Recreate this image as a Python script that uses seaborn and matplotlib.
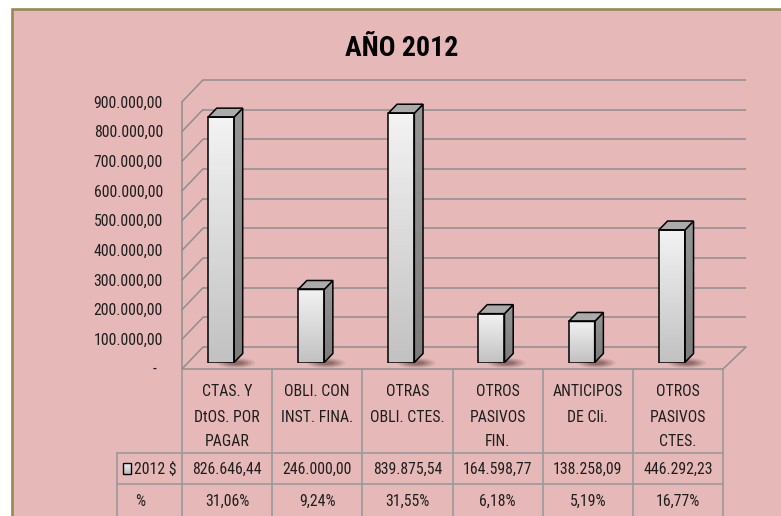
import re
import matplotlib
matplotlib.use("Agg")
import matplotlib.pyplot as plt
from matplotlib.patches import Rectangle, Polygon, Ellipse
from matplotlib.colors import LinearSegmentedColormap
from matplotlib import font_manager
from matplotlib.font_manager import FontProperties
from matplotlib.textpath import TextPath
import numpy as np
import pandas as pd
import seaborn as sns

# ---- data -------------------------------------------------------------
categories = [
    "CTAS. Y\nDtOS. POR\nPAGAR",
    "OBLI. CON\nINST. FINA.",
    "OTRAS\nOBLI. CTES.",
    "OTROS\nPASIVOS\nFIN.",
    "ANTICIPOS\nDE Cli.",
    "OTROS\nPASIVOS\nCTES.",
]
values_2012 = [826646.44, 246000.00, 839875.54, 164598.77, 138258.09, 446292.23]
percentages = [31.06, 9.24, 31.55, 6.18, 5.19, 16.77]
y_ticks = [0, 100000, 200000, 300000, 400000, 500000, 600000, 700000, 800000, 900000]
series_label = "2012 $"
pct_label = "%"
title = "AÑO 2012"

# ---- fonts ------------------------------------------------------------
sns.set_theme(style="white")
plt.rcParams["font.family"] = ["DejaVu Sans"]

files = sorted({f.fname for f in font_manager.fontManager.ttflist})


def pick(patterns):
    for pat in patterns:
        for fn in files:
            if re.search(pat, fn.split("/")[-1], re.I):
                return fn
    return None


reg_file = pick([r"^RobotoCondensed-Regular\.", r"^LiberationSansNarrow-Regular",
                 r"^DejaVuSansCondensed\.ttf"])
bold_file = pick([r"^RobotoCondensed-Bold\.", r"^LiberationSansNarrow-Bold\.",
                  r"^DejaVuSansCondensed-Bold\.ttf"])
FP = FontProperties(fname=reg_file) if reg_file else FontProperties(family="DejaVu Sans")
FPB = FontProperties(fname=bold_file) if bold_file else FontProperties(family="DejaVu Sans", weight="bold")


def fit(prop, sample, target_px):
    w = TextPath((0, 0), sample, size=10, prop=prop).get_extents().width
    return 10 * target_px / (w * 100 / 72)


FS = fit(FP, "826.646,44", 68)
FS_T = fit(FPB, title, 112)

PINK = "#E6B9B8"
OLIVE = "#948A54"
GRID = "#8E8E8E"
TABLE = "#9A9A9A"
TXT = "#1E1E1E"

W, H = 781, 516
fig = plt.figure(figsize=(W / 100, H / 100), dpi=100)
fig.patch.set_facecolor("white")


def es_num(v):
    s = f"{v:,.2f}"
    return s.replace(",", "X").replace(".", ",").replace("X", ".")


def txt(axis, x, y, s, **kw):
    kw.setdefault("fontproperties", FP)
    fp = kw.pop("fontproperties").copy()
    fp.set_size(kw.pop("size", FS))
    axis.text(x, y, s, fontproperties=fp, color=kw.pop("color", TXT),
              va="center", **kw)


# ---- background / walls (pixel coordinates) ---------------------------
bg = fig.add_axes([0, 0, 1, 1], zorder=0)
bg.set_xlim(0, W)
bg.set_ylim(H, 0)
bg.axis("off")
bg.add_patch(Rectangle((11.5, 8.5), W, H, facecolor=PINK, edgecolor=OLIVE,
                       linewidth=1.9))

PX = 29.68e-5          # pixels per unit value
BACK0, FRONT0 = 347.0, 369.0
XL_FRONT, XL_BACK, XR_BACK, XR_FRONT = 182.0, 203.0, 746.0, 723.0


def y_back(v):
    return BACK0 - v * PX


def y_front(v):
    return FRONT0 - v * PX


for v in y_ticks:
    bg.plot([XL_BACK, XR_BACK], [y_back(v), y_back(v)], color=GRID, lw=1.1,
            solid_capstyle="butt")
    bg.plot([XL_FRONT, XL_BACK], [y_front(v), y_back(v)], color=GRID, lw=1.1)
    if v == 0:
        txt(bg, 155, y_front(v), "-", ha="center")
    else:
        txt(bg, 163, y_front(v) + 1, es_num(v), ha="right")

top = y_ticks[-1]
bg.plot([XL_FRONT, XL_FRONT], [y_front(top), y_front(0)], color=GRID, lw=1.1)
# floor
bg.plot([XL_FRONT, XR_FRONT], [FRONT0, FRONT0], color=GRID, lw=1.1)
bg.plot([XR_FRONT, XR_BACK], [FRONT0, BACK0], color=GRID, lw=1.1)

# ---- data table ---------------------------------------------------------
n = len(categories)
col_w = (XR_FRONT - XL_FRONT) / n
row1, row2 = 453.0, 484.0
for i in range(n + 1):
    x = XL_FRONT + i * col_w
    bg.plot([x, x], [FRONT0, H + 2], color=TABLE, lw=1.2)
bg.plot([117, 117], [row1, H + 2], color=TABLE, lw=1.2)
for yy in (row1, row2):
    bg.plot([117, XR_FRONT], [yy, yy], color=TABLE, lw=1.2)

for i, (cat, v, p) in enumerate(zip(categories, values_2012, percentages)):
    cx = XL_FRONT + (i + 0.5) * col_w
    for j, line in enumerate(cat.split("\n")):
        txt(bg, cx, 392 + 25 * j, line, ha="center")
    txt(bg, cx, 469, es_num(v), ha="center")
    txt(bg, cx, 501, f"{p:.2f}%".replace(".", ","), ha="center")

# legend key + row headers
key_cmap = LinearSegmentedColormap.from_list("key", ["#F2F2F2", "#BDBDBD"])
bg.imshow(np.linspace(0, 1, 20).reshape(-1, 1), cmap=key_cmap, aspect="auto",
          extent=(123, 131, 474, 463), zorder=3)
bg.add_patch(Rectangle((123, 463), 8, 11, facecolor="none", edgecolor="black",
                       lw=1.0, zorder=4))
bg.set_xlim(0, W)
bg.set_ylim(H, 0)
txt(bg, 134, 469, series_label, ha="left")
txt(bg, 140, 501, pct_label, ha="center")

txt(bg, 402, 49, title, ha="center", fontproperties=FPB, size=FS_T,
    color="black")

# ---- bars ---------------------------------------------------------------
BAR_X0 = 221.0      # pixel centre of first bar face
BAR_BASE = 362.5
left = (BAR_X0 - col_w / 2) / W
ax = fig.add_axes([left, (H - BAR_BASE) / H, n * col_w / W,
                   y_ticks[-1] * PX / H], zorder=1)
ax.patch.set_alpha(0)

df = pd.DataFrame({"cat": categories, "val": values_2012})
sns.barplot(data=df, x="cat", y="val", ax=ax, width=26 / col_w,
            color="#DDDDDD", edgecolor="black", linewidth=1.1, saturation=1,
            zorder=3)
ax.set_xlim(-0.5, n - 0.5)
ax.set_ylim(0, y_ticks[-1])
ax.axis("off")

front_cmap = LinearSegmentedColormap.from_list("front", ["#F3F3F3", "#C2C2C2"])
side_cmap = LinearSegmentedColormap.from_list("side", ["#969696", "#7C7C7C"])
DX, DY = 8.7, 9.0
inv = ax.transData.inverted()
to_disp = ax.transData.transform

for p in list(ax.patches):
    x0, w, h = p.get_x(), p.get_width(), p.get_height()
    p.set_facecolor("none")
    grad = ax.imshow(np.linspace(0, 1, 64).reshape(-1, 1), cmap=front_cmap,
                     aspect="auto", extent=(x0, x0 + w, 0, h), zorder=2.5)
    grad.set_clip_path(p)

    (xl, yb), (xr, yt) = to_disp([(x0, 0), (x0 + w, h)])
    side = inv.transform([(xr, yb), (xr + DX, yb + DY), (xr + DX, yt + DY), (xr, yt)])
    topf = inv.transform([(xl, yt), (xr, yt), (xr + DX, yt + DY), (xl + DX, yt + DY)])

    # soft shadow on the floor
    for k, a in enumerate([0.10, 0.13, 0.17, 0.22]):
        ew, eh = 38 - 7 * k, 10 - 2 * k
        c0 = inv.transform([(xr + 2, yb - 0.5)])[0]
        c1 = inv.transform([(xr + 2 + ew, yb - 0.5 + eh)])[0]
        ax.add_patch(Ellipse(c0, c1[0] - c0[0], c1[1] - c0[1], facecolor="#3E2222",
                             edgecolor="none", alpha=a, zorder=1, clip_on=False))

    sp = Polygon(side, closed=True, facecolor="#8A8A8A", edgecolor="none",
                 zorder=3, clip_on=False)
    ax.add_patch(sp)
    sg = ax.imshow(np.linspace(0, 1, 64).reshape(-1, 1), cmap=side_cmap,
                   aspect="auto",
                   extent=(side[:, 0].min(), side[:, 0].max(),
                           side[:, 1].min(), side[:, 1].max()), zorder=3.1)
    sg.set_clip_path(sp)
    ax.add_patch(Polygon(side, closed=True, facecolor="none", edgecolor="black",
                         lw=1.1, zorder=3.2, clip_on=False))
    ax.add_patch(Polygon(topf, closed=True, facecolor="#ABABAB",
                         edgecolor="black", lw=1.1, zorder=3.2, clip_on=False))
    p.set_zorder(3.3)

ax.set_xlim(-0.5, n - 0.5)
ax.set_ylim(0, y_ticks[-1])

fig.savefig("out.png", dpi=100, facecolor=fig.get_facecolor())
